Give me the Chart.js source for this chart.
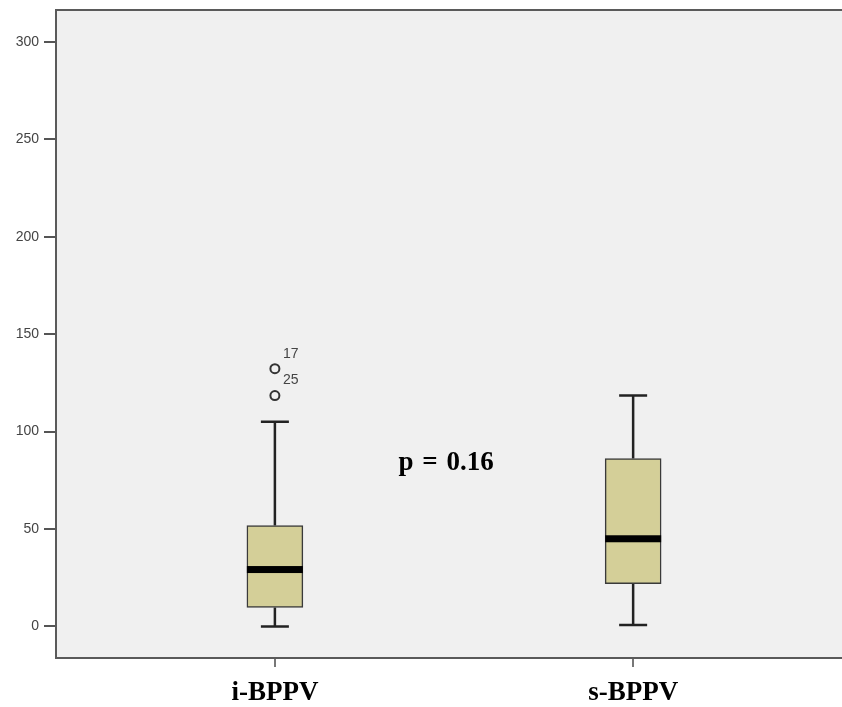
<!DOCTYPE html>
<html>
<head>
<meta charset="utf-8">
<script src="https://cdn.jsdelivr.net/npm/chart.js@4.4.1/dist/chart.umd.min.js"></script>
<style>
  html, body { margin: 0; padding: 0; background: #ffffff; }
  canvas { display: block; }
</style>
</head>
<body>
<canvas id="chart" width="842" height="707"></canvas>
<script>
// Box plot summary per group
const categories   = ['i-BPPV', 's-BPPV'];
const whiskerLow   = [0, 0.7];
const q1Values     = [9.7, 21.9];
const medianValues = [29.2, 45.0];
const q3Values     = [51.8, 86.2];
const whiskerHigh  = [105, 118.5];

// Outliers (group index, value, case id)
const outlierGroup  = [0, 0];
const outlierValues = [132.3, 118.5];
const outlierIds    = ['17', '25'];

// Axis ticks
const yTickValues = [0, 50, 100, 150, 200, 250, 300];

// Annotation
const pLabel = 'p = 0.16';
const pLabelPos = { x: 0.478, y: 80.5 };

const BOX_FILL = '#d4cf98';
const INK = '#222222';
const FRAME = '#5a5a5a';
const SERIF = '"Liberation Serif", "Times New Roman", serif';
const SANS = '"Liberation Sans", Arial, sans-serif';

const boxPlotExtras = {
  id: 'boxPlotExtras',
  beforeDraw(chart) {
    const { ctx, chartArea: a } = chart;
    ctx.save();
    ctx.fillStyle = '#f0f0f0';
    ctx.fillRect(a.left, a.top, chart.width - a.left, a.bottom - a.top);
    ctx.restore();
  },
  beforeDatasetsDraw(chart) {
    const { ctx, scales: { x, y } } = chart;
    ctx.save();
    ctx.strokeStyle = INK;
    ctx.lineWidth = 2.5;
    categories.forEach((_, i) => {
      const cx = x.getPixelForValue(i);
      const capHalf = 14;
      ctx.beginPath();
      ctx.moveTo(cx, y.getPixelForValue(q3Values[i]));
      ctx.lineTo(cx, y.getPixelForValue(whiskerHigh[i]));
      ctx.moveTo(cx, y.getPixelForValue(q1Values[i]));
      ctx.lineTo(cx, y.getPixelForValue(whiskerLow[i]));
      ctx.moveTo(cx - capHalf, y.getPixelForValue(whiskerHigh[i]));
      ctx.lineTo(cx + capHalf, y.getPixelForValue(whiskerHigh[i]));
      ctx.moveTo(cx - capHalf, y.getPixelForValue(whiskerLow[i]));
      ctx.lineTo(cx + capHalf, y.getPixelForValue(whiskerLow[i]));
      ctx.stroke();
    });
    ctx.restore();
  },
  afterDatasetsDraw(chart) {
    const { ctx, chartArea: a, scales: { x, y } } = chart;
    const boxes = chart.getDatasetMeta(0).data;
    ctx.save();
    // medians
    ctx.fillStyle = '#000000';
    boxes.forEach((el, i) => {
      const ym = y.getPixelForValue(medianValues[i]);
      ctx.fillRect(el.x - el.width / 2, ym - 3.5, el.width, 7);
    });
    // outlier case ids
    ctx.fillStyle = '#444444';
    ctx.font = '14px ' + SANS;
    ctx.textAlign = 'left';
    ctx.textBaseline = 'middle';
    outlierValues.forEach((v, i) => {
      const px = x.getPixelForValue(outlierGroup[i]);
      const py = y.getPixelForValue(v);
      ctx.fillText(outlierIds[i], px + 8, py - 15);
    });
    // significance annotation
    ctx.fillStyle = '#000000';
    ctx.font = 'bold 27px ' + SERIF;
    if ('wordSpacing' in ctx) ctx.wordSpacing = '2px';
    ctx.textAlign = 'center';
    ctx.textBaseline = 'alphabetic';
    ctx.fillText(pLabel, x.getPixelForValue(pLabelPos.x), y.getPixelForValue(pLabelPos.y));
    // frame: left, top, bottom (open on the right)
    ctx.strokeStyle = FRAME;
    ctx.lineWidth = 2;
    ctx.beginPath();
    ctx.moveTo(chart.width + 2, a.top);
    ctx.lineTo(a.left, a.top);
    ctx.lineTo(a.left, a.bottom);
    ctx.lineTo(chart.width + 2, a.bottom);
    ctx.stroke();
    ctx.restore();
  }
};

new Chart(document.getElementById('chart'), {
  type: 'bar',
  data: {
    datasets: [
      {
        label: 'IQR',
        data: categories.map((_, i) => ({ x: i, y: [q1Values[i], q3Values[i]] })),
        backgroundColor: BOX_FILL,
        borderColor: '#3a3a3a',
        borderWidth: 1.5,
        borderSkipped: false,
        barThickness: 56,
        grouped: false
      },
      {
        type: 'scatter',
        label: 'Outliers',
        data: outlierValues.map((v, i) => ({ x: outlierGroup[i], y: v })),
        pointStyle: 'circle',
        pointRadius: 4.5,
        pointBorderWidth: 2,
        borderColor: '#333333',
        backgroundColor: 'rgba(0,0,0,0)'
      }
    ]
  },
  options: {
    responsive: false,
    animation: false,
    devicePixelRatio: 1,
    layout: { autoPadding: false, padding: { top: 10, right: 0, left: 0, bottom: 0 } },
    plugins: { legend: { display: false }, tooltip: { enabled: false } },
    scales: {
      x: {
        type: 'linear',
        offset: false,
        min: -0.611,
        max: 1.583,
        afterBuildTicks(scale) { scale.ticks = categories.map((_, i) => ({ value: i })); },
        afterFit(scale) { scale.height = 49; scale.paddingLeft = 0; scale.paddingRight = 0; },
        border: { display: false },
        grid: { offset: false, drawOnChartArea: false, drawTicks: true, tickLength: 9, color: '#777777', lineWidth: 2 },
        ticks: {
          callback: (v) => categories[v],
          color: '#000000',
          font: { family: SERIF, size: 27, weight: 'bold' },
          padding: 10,
          maxRotation: 0,
          autoSkip: false
        }
      },
      y: {
        type: 'linear',
        min: -16.2,
        max: 316.4,
        afterBuildTicks(scale) { scale.ticks = yTickValues.map(v => ({ value: v })); },
        afterFit(scale) { scale.width = 56; scale.paddingTop = 0; scale.paddingBottom = 0; },
        border: { display: false },
        grid: { drawOnChartArea: false, drawTicks: true, tickLength: 12, color: '#555555', lineWidth: 2 },
        ticks: {
          color: '#444444',
          font: { family: SANS, size: 14 },
          padding: 5
        }
      }
    }
  },
  plugins: [boxPlotExtras]
});
</script>
</body>
</html>
